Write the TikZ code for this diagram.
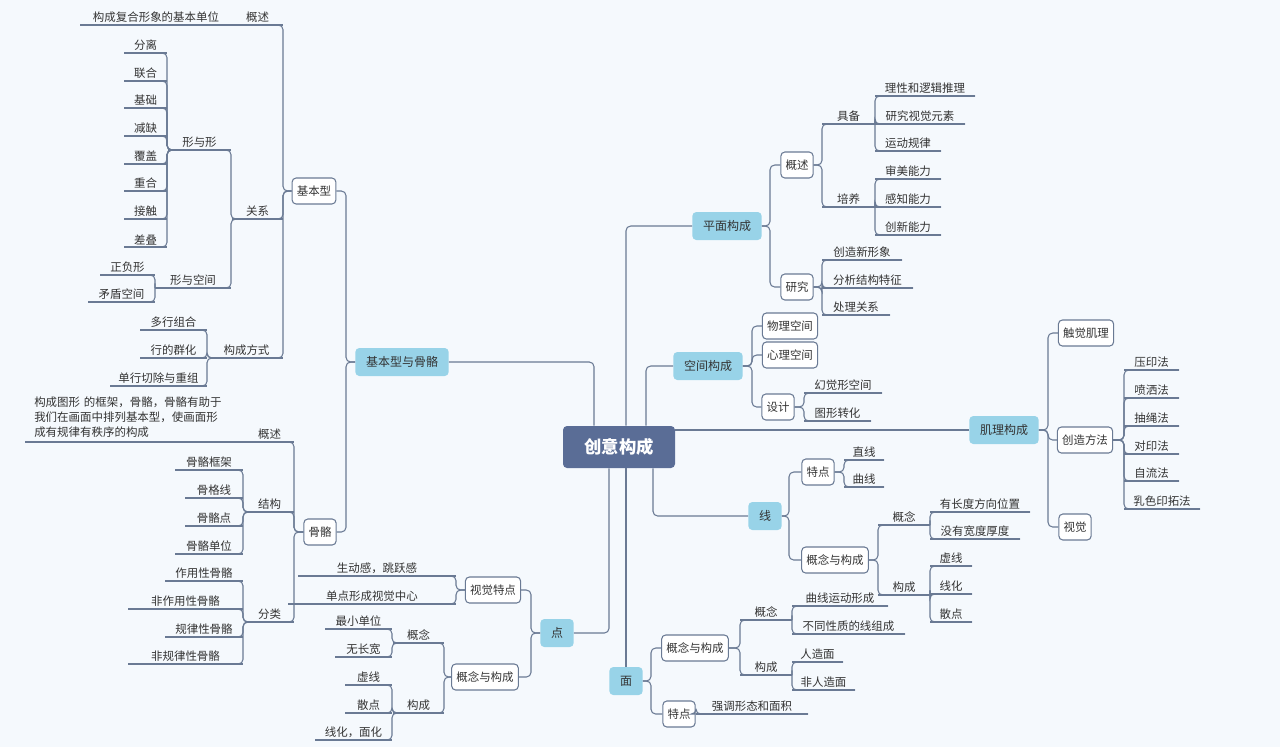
\documentclass[tikz,border=0pt]{standalone}
\usepackage{fontspec}
\setmainfont{Noto Sans CJK SC}
\begin{document}
\definecolor{ln}{HTML}{6A7A94}
\definecolor{mainf}{HTML}{98D3E8}
\definecolor{rootf}{HTML}{5A6D96}
\definecolor{bg}{HTML}{F5F9FD}
\definecolor{tx}{HTML}{333333}
\begin{tikzpicture}[x=0.75pt,y=-0.75pt,
  ln/.style={draw=ln,line width=0.8pt,rounded corners=3.5pt},
  leaf/.style={inner sep=1.5pt,font=\fontsize{8.6}{10}\selectfont,text=tx},
  box/.style={draw=ln,line width=0.8pt,fill=white,rounded corners=3pt,minimum height=19.5pt,inner xsep=3.5pt,inner ysep=0pt,font=\fontsize{8.6}{10}\selectfont,text=tx},
  mainn/.style={fill=mainf,rounded corners=3pt,minimum height=21pt,inner xsep=8pt,inner ysep=0pt,font=\fontsize{9}{10}\selectfont,text=tx},
  rootn/.style={fill=rootf,rounded corners=3pt,minimum height=31.5pt,minimum width=84pt,font=\fontsize{13}{14}\selectfont\bfseries,text=white}]
\newcommand\lf[5]{\node[leaf,anchor=south] (#1) at ({(#2+#3)/2},#4) {#5};
  \coordinate (#1-l) at (#2,#4); \coordinate (#1-r) at (#3,#4);
  \draw[ln] (#1-l)--(#1-r);}
\newcommand\cn[3]{\coordinate (bb) at (#2,0); \draw[ln] (#1) -- (#1 -| bb) |- (#3);}
\useasboundingbox[fill=bg] (0,0) rectangle (1280,747);
% main nodes
\node[rootn] (root) at (619,447) {创意构成};
\node[mainn] (jbg) at (402,362) {基本型与骨骼};
\node[mainn] (pm) at (727,226) {平面构成};
\node[mainn] (kj) at (708,366) {空间构成};
\node[mainn] (jl) at (1004,430) {肌理构成};
\node[mainn] (xian) at (765,516) {线};
\node[mainn] (dian) at (557,633) {点};
\node[mainn] (mian) at (626,681) {面};
\draw[ln] ([xshift=-18.75pt]root.north) |- (jbg.east);
\draw[ln] ([xshift=5.25pt]root.north) |- (pm.west);
\draw[ln] ([xshift=20.25pt]root.north) |- (kj.west);
\draw[ln] (jl.west -| root.east) -- (jl.west);
\draw[ln] ([xshift=25.5pt]root.south) |- (xian.west);
\draw[ln] ([xshift=-7.5pt]root.south) |- (dian.east);
\draw[ln] (root.south -| mian.north) -- (mian.north);
% ---- 基本型与骨骼
\node[box] (jbx) at (314,191) {基本型};
\node[box] (gg) at (320,532) {骨骼};
\cn{jbg.west}{346}{jbx.east}
\cn{jbg.west}{346}{gg.east}
\lf{gs1}{232}{283}{25}{概述}
\lf{gs1a}{80}{232}{25}{构成复合形象的基本单位}
\lf{gx}{232}{283}{219}{关系}
\lf{gf}{210}{283}{358}{构成方式}
\cn{jbx.west}{283}{gs1a-l}
\cn{jbx.west}{283}{gx-l}
\cn{jbx.west}{283}{gf-l}
\lf{xyx}{168}{231}{150}{形与形}
\lf{xykj}{155}{231}{288}{形与空间}
\cn{gx-l}{231}{xyx-l}
\cn{gx-l}{231}{xykj-l}
\lf{a1}{124}{167}{53}{分离}
\lf{a2}{124}{167}{81}{联合}
\lf{a3}{124}{167}{108}{基础}
\lf{a4}{124}{167}{136}{减缺}
\lf{a5}{124}{167}{164}{覆盖}
\lf{a6}{124}{167}{191}{重合}
\lf{a7}{124}{167}{219}{接触}
\lf{a8}{124}{167}{247}{差叠}
\foreach \i in {1,...,8}{\cn{xyx-l}{167}{a\i-l}}
\lf{b1}{100}{155}{275}{正负形}
\lf{b2}{88}{155}{302}{矛盾空间}
\cn{xykj-l}{155}{b1-l}
\cn{xykj-l}{155}{b2-l}
\lf{c1}{140}{207}{330}{多行组合}
\lf{c2}{140}{207}{358}{行的群化}
\lf{c3}{110}{207}{386}{单行切除与重组}
\foreach \i in {1,2,3}{\cn{gf-l}{207}{c\i-l}}
% 骨骼
\lf{ggs}{245}{294}{442}{概述}
\node[leaf,anchor=south west,align=left,text width=165pt,font=\fontsize{8.6}{11.2}\selectfont] (ggst) at (32,440) {构成图形 的框架，骨骼，骨骼有助于\\我们在画面中排列基本型，使画面形\\成有规律有秩序的构成};
\coordinate (ggst-l) at (25,442);
\draw[ln] (ggst-l) -- (ggs-l);
\lf{ggj}{245}{294}{512}{结构}
\lf{ggf}{245}{294}{622}{分类}
\cn{gg.west}{294}{ggst-l}
\cn{gg.west}{294}{ggj-l}
\cn{gg.west}{294}{ggf-l}
\lf{d1}{175}{243}{470}{骨骼框架}
\lf{d2}{185}{243}{498}{骨格线}
\lf{d3}{185}{243}{526}{骨骼点}
\lf{d4}{175}{243}{554}{骨骼单位}
\foreach \i in {1,...,4}{\cn{ggj-l}{243}{d\i-l}}
\lf{e1}{165}{243}{581}{作用性骨骼}
\lf{e2}{128}{243}{609}{非作用性骨骼}
\lf{e3}{165}{243}{637}{规律性骨骼}
\lf{e4}{128}{243}{664}{非规律性骨骼}
\foreach \i in {1,...,4}{\cn{ggf-l}{243}{e\i-l}}
% ---- 点
\node[box] (sjtd) at (493,590) {视觉特点};
\node[box] (dgn) at (485,677) {概念与构成};
\cn{dian.west}{531}{sjtd.east}
\cn{dian.west}{531}{dgn.east}
\lf{f1}{298}{456}{576}{生动感，跳跃感}
\lf{f2}{288}{456}{604}{单点形成视觉中心}
\cn{sjtd.west}{456}{f1-l}
\cn{sjtd.west}{456}{f2-l}
\lf{dgn1}{393}{444}{643}{概念}
\lf{dgn2}{393}{444}{713}{构成}
\cn{dgn.west}{444}{dgn1-l}
\cn{dgn.west}{444}{dgn2-l}
\lf{g1}{325}{392}{629}{最小单位}
\lf{g2}{335}{392}{657}{无长宽}
\cn{dgn1-l}{392}{g1-l}
\cn{dgn1-l}{392}{g2-l}
\lf{h1}{345}{392}{685}{虚线}
\lf{h2}{345}{392}{713}{散点}
\lf{h3}{315}{392}{740}{线化，面化}
\foreach \i in {1,2,3}{\cn{dgn2-l}{392}{h\i-l}}
% ---- 平面构成
\node[box] (pgs) at (797,165) {概述};
\node[box] (pyj) at (797,287) {研究};
\cn{pm.east}{770}{pgs.west}
\cn{pm.east}{770}{pyj.west}
\lf{jb}{822}{875}{124}{具备}
\lf{py}{822}{875}{207}{培养}
\cn{pgs.east}{822}{jb-r}
\cn{pgs.east}{822}{py-r}
\lf{i1}{875}{975}{96}{理性和逻辑推理}
\lf{i2}{875}{965}{124}{研究视觉元素}
\lf{i3}{875}{941}{151}{运动规律}
\foreach \i in {1,2,3}{\cn{jb-r}{875}{i\i-r}}
\lf{j1}{875}{941}{179}{审美能力}
\lf{j2}{875}{941}{207}{感知能力}
\lf{j3}{875}{941}{235}{创新能力}
\foreach \i in {1,2,3}{\cn{py-r}{875}{j\i-r}}
\lf{k1}{822}{902}{260}{创造新形象}
\lf{k2}{822}{913}{288}{分析结构特征}
\lf{k3}{822}{890}{315}{处理关系}
\foreach \i in {1,2,3}{\cn{pyj.east}{822}{k\i-r}}
% ---- 空间构成
\node[box] (wl) at (790,326) {物理空间};
\node[box] (xl) at (790,355) {心理空间};
\node[box] (sj) at (778,407) {设计};
\cn{kj.east}{752}{wl.west}
\cn{kj.east}{752}{xl.west}
\cn{kj.east}{752}{sj.west}
\lf{l1}{804}{882}{393}{幻觉形空间}
\lf{l2}{804}{871}{421}{图形转化}
\cn{sj.east}{804}{l1-r}
\cn{sj.east}{804}{l2-r}
% ---- 肌理构成
\node[box] (cj) at (1086,333) {触觉肌理};
\node[box] (cz) at (1085,440) {创造方法};
\node[box] (sjue) at (1075,527) {视觉};
\cn{jl.east}{1048}{cj.west}
\cn{jl.east}{1048}{cz.west}
\cn{jl.east}{1048}{sjue.west}
\lf{m1}{1124}{1179}{370}{压印法}
\lf{m2}{1124}{1179}{398}{喷洒法}
\lf{m3}{1124}{1179}{426}{抽绳法}
\lf{m4}{1124}{1179}{454}{对印法}
\lf{m5}{1124}{1179}{481}{自流法}
\lf{m6}{1124}{1200}{509}{乳色印拓法}
\foreach \i in {1,...,6}{\cn{cz.east}{1124}{m\i-r}}
% ---- 线
\node[box] (xtd) at (818,472) {特点};
\node[box] (xgn) at (835,560) {概念与构成};
\cn{xian.east}{789}{xtd.west}
\cn{xian.east}{789}{xgn.west}
\lf{n1}{844}{884}{460}{直线}
\lf{n2}{844}{884}{487}{曲线}
\cn{xtd.east}{844}{n1-r}
\cn{xtd.east}{844}{n2-r}
\lf{xg1}{878}{930}{525}{概念}
\lf{xg2}{878}{930}{595}{构成}
\cn{xgn.east}{878}{xg1-r}
\cn{xgn.east}{878}{xg2-r}
\lf{o1}{930}{1030}{512}{有长度方向位置}
\lf{o2}{930}{1020}{539}{没有宽度厚度}
\cn{xg1-r}{930}{o1-r}
\cn{xg1-r}{930}{o2-r}
\lf{p1}{930}{972}{566}{虚线}
\lf{p2}{930}{972}{594}{线化}
\lf{p3}{930}{972}{622}{散点}
\foreach \i in {1,2,3}{\cn{xg2-r}{930}{p\i-r}}
% ---- 面
\node[box] (mgn) at (695,648) {概念与构成};
\node[box] (mtd) at (679,714) {特点};
\cn{mian.east}{651}{mgn.west}
\cn{mian.east}{651}{mtd.west}
\lf{mg1}{740}{792}{620}{概念}
\lf{mg2}{740}{792}{675}{构成}
\cn{mgn.east}{740}{mg1-r}
\cn{mgn.east}{740}{mg2-r}
\lf{q1}{792}{888}{606}{曲线运动形成}
\lf{q2}{792}{905}{634}{不同性质的线组成}
\cn{mg1-r}{792}{q1-r}
\cn{mg1-r}{792}{q2-r}
\lf{r1}{792}{843}{662}{人造面}
\lf{r2}{792}{855}{690}{非人造面}
\cn{mg2-r}{792}{r1-r}
\cn{mg2-r}{792}{r2-r}
\lf{s1}{696}{808}{714}{强调形态和面积}
\cn{mtd.east}{696}{s1-r}
\end{tikzpicture}
\end{document}
